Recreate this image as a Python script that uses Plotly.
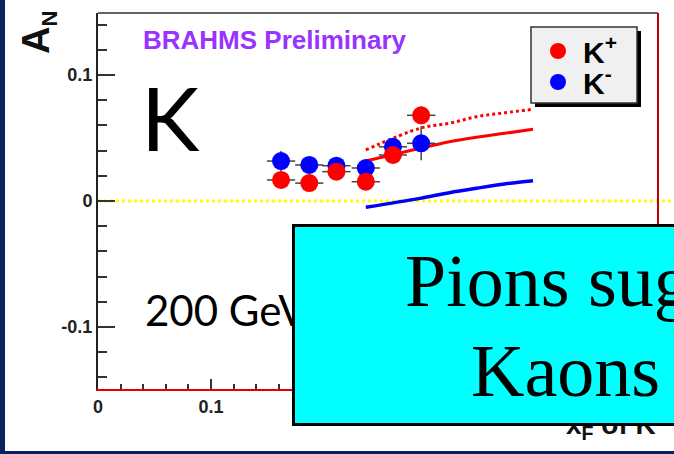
import plotly.graph_objects as go

# measured points (x_F, A_N)
xf = [0.162, 0.187, 0.211, 0.237, 0.261, 0.286]
an_kplus = [0.0167, 0.0142, 0.0233, 0.0153, 0.0365, 0.0680]
an_kminus = [0.0317, 0.0286, 0.0280, 0.0262, 0.0430, 0.0458]
err_kplus = [0.006, 0.006, 0.006, 0.006, 0.006, 0.007]
err_kminus = [0.008, 0.006, 0.006, 0.006, 0.006, 0.0135]
err_xf = 0.0125

# model curves
xf_curve = [0.237, 0.285, 0.311, 0.335, 0.360, 0.385]
curve_kplus = [0.0317, 0.0418, 0.0470, 0.0506, 0.0537, 0.0569]
curve_kplus_dot = [0.0405, 0.0577, 0.0617, 0.0669, 0.0700, 0.0728]
curve_kminus = [-0.0050, 0.0021, 0.0066, 0.0101, 0.0135, 0.0161]

y_ticks = [-0.1, 0, 0.1]
y_labels = ["-0.1", "0", "0.1"]
x_ticks = [0, 0.1, 0.2, 0.3, 0.4]
x_labels = ["0", "0.1", "0.2", "0.3", "0.4"]

RED = "#ff0000"
BLUE = "#0000ff"
NAVY = "#0a2260"

fig = go.Figure()

fig.add_trace(go.Scatter(x=xf_curve, y=curve_kplus_dot, mode="lines", showlegend=False,
                         line=dict(color=RED, width=3, dash="dot"), line_shape="spline"))
fig.add_trace(go.Scatter(x=xf_curve, y=curve_kplus, mode="lines", showlegend=False,
                         line=dict(color=RED, width=3), line_shape="spline"))
fig.add_trace(go.Scatter(x=xf_curve, y=curve_kminus, mode="lines", showlegend=False,
                         line=dict(color=BLUE, width=3.5), line_shape="spline"))

fig.add_trace(go.Scatter(
    x=xf, y=an_kminus, mode="markers", name="K<sup>-</sup>", legend="legend2",
    marker=dict(color=BLUE, size=18),
    error_x=dict(type="constant", value=err_xf, color="#444", thickness=1.5, width=0),
    error_y=dict(type="data", array=err_kminus, color="#444", thickness=1.5, width=0),
))
fig.add_trace(go.Scatter(
    x=xf, y=an_kplus, mode="markers", name="K<sup>+</sup>", legend="legend",
    marker=dict(color=RED, size=18),
    error_x=dict(type="constant", value=err_xf, color="#444", thickness=1.5, width=0),
    error_y=dict(type="data", array=err_kplus, color="#444", thickness=1.5, width=0),
))

W, H = 674, 454
L, R, T, B = 98, 16, 13, 65
pw, ph = W - L - R, H - T - B


def px(xp):
    return (xp - L) / pw


def py(yp):
    return (H - B - yp) / ph


tick_font = dict(family="Liberation Sans, Arial", size=18, color="#222", weight="bold")
leg_font = dict(family="Liberation Sans, Arial", size=30, color="black", weight="bold")

fig.update_layout(
    width=W, height=H,
    margin=dict(l=L, r=R, t=T, b=B),
    paper_bgcolor="white", plot_bgcolor="white",
    xaxis=dict(range=[0, 0.4956], showgrid=False, zeroline=False,
               showline=True, linecolor="#e00000", linewidth=2,
               tickvals=x_ticks, ticktext=x_labels, ticks="inside", ticklen=10,
               tickwidth=1.5, tickcolor="#333", tickfont=tick_font,
               minor=dict(dtick=0.02, tick0=0, ticks="inside", ticklen=5, tickwidth=1.5, tickcolor="#333")),
    yaxis=dict(range=[-0.1492, 0.1492], showgrid=False, zeroline=False,
               showline=True, linecolor="#222", linewidth=2,
               tickvals=y_ticks, ticktext=y_labels, ticks="inside", ticklen=17,
               tickwidth=1.5, tickcolor="#333", tickfont=tick_font,
               minor=dict(dtick=0.02, tick0=0, ticks="inside", ticklen=9, tickwidth=1.5, tickcolor="#333")),
    legend=dict(x=px(533), y=py(51), xanchor="left", yanchor="middle",
                bgcolor="rgba(0,0,0,0)", borderwidth=0, itemwidth=40, font=leg_font),
    legend2=dict(x=px(533), y=py(82), xanchor="left", yanchor="middle",
                 bgcolor="rgba(0,0,0,0)", borderwidth=0, itemwidth=40, font=leg_font),
    showlegend=True,
)

# frame, zero line, legend box, slide borders
fig.add_shape(type="line", xref="paper", yref="paper", x0=0, x1=1, y0=1, y1=1,
              line=dict(color="#333", width=1.5))
fig.add_shape(type="line", xref="paper", yref="paper", x0=1, x1=1, y0=0, y1=1,
              line=dict(color="#c00000", width=2))
fig.add_shape(type="line", xref="paper", yref="y", x0=0, x1=px(W), y0=0, y1=0,
              line=dict(color="#ffff00", width=3, dash="dot"), layer="below")
fig.add_shape(type="rect", xref="paper", yref="paper", x0=px(535), x1=px(641), y0=py(107), y1=py(31),
              fillcolor="black", line=dict(width=0))
fig.add_shape(type="rect", xref="paper", yref="paper", x0=px(531), x1=px(637), y0=py(103), y1=py(27),
              fillcolor="#f0f0f0", line=dict(color="#333", width=1.5))
fig.add_shape(type="rect", xref="paper", yref="paper", x0=px(0), x1=px(5), y0=py(H), y1=py(0),
              fillcolor=NAVY, line=dict(width=0))
fig.add_shape(type="rect", xref="paper", yref="paper", x0=px(0), x1=px(W), y0=py(H), y1=py(451),
              fillcolor=NAVY, line=dict(width=0))

ann = []
ann.append(dict(text="A<sub><span style='font-size:22px'>N</span></sub>", xref="paper", yref="paper",
                x=px(38), y=py(33), xanchor="center", yanchor="middle", textangle=-90, showarrow=False,
                font=dict(family="Liberation Sans, Arial", size=38, color="#111", weight="bold")))
ann.append(dict(text="BRAHMS Preliminary", xref="paper", yref="paper",
                x=px(141), y=py(40), xanchor="left", yanchor="middle", showarrow=False,
                font=dict(family="Liberation Sans, Arial", size=26, color="#9933ff", weight="bold")))
ann.append(dict(text="K", xref="paper", yref="paper",
                x=px(139), y=py(117), xanchor="left", yanchor="middle", showarrow=False,
                font=dict(family="Lato", size=88, color="black")))
ann.append(dict(text="200 GeV", xref="paper", yref="paper",
                x=px(143), y=py(310), xanchor="left", yanchor="middle", showarrow=False,
                font=dict(family="Lato", size=42, color="black")))
ann.append(dict(text="x<sub>F</sub> of K", xref="paper", yref="paper",
                x=px(658), y=py(426), xanchor="right", yanchor="middle", showarrow=False,
                font=dict(family="Liberation Sans, Arial", size=28, color="#111", weight="bold")))
ann.append(dict(text=" ", xref="paper", yref="paper",
                x=px(292), y=py(224), xanchor="left", yanchor="top", showarrow=False,
                width=440, height=196, bgcolor="#00ffff", bordercolor="black", borderwidth=3,
                borderpad=0))
ann.append(dict(text="Pions sug", xref="paper", yref="paper",
                x=px(403), y=py(281), xanchor="left", yanchor="middle", showarrow=False,
                font=dict(family="Liberation Serif, Times New Roman", size=74, color="black")))
ann.append(dict(text="Kaons", xref="paper", yref="paper",
                x=px(469), y=py(371), xanchor="left", yanchor="middle", showarrow=False,
                font=dict(family="Liberation Serif, Times New Roman", size=74, color="black")))
fig.update_layout(annotations=ann)

fig.write_html("out.html", config={"displayModeBar": False},
               post_script="document.body.style.margin='0px';")
